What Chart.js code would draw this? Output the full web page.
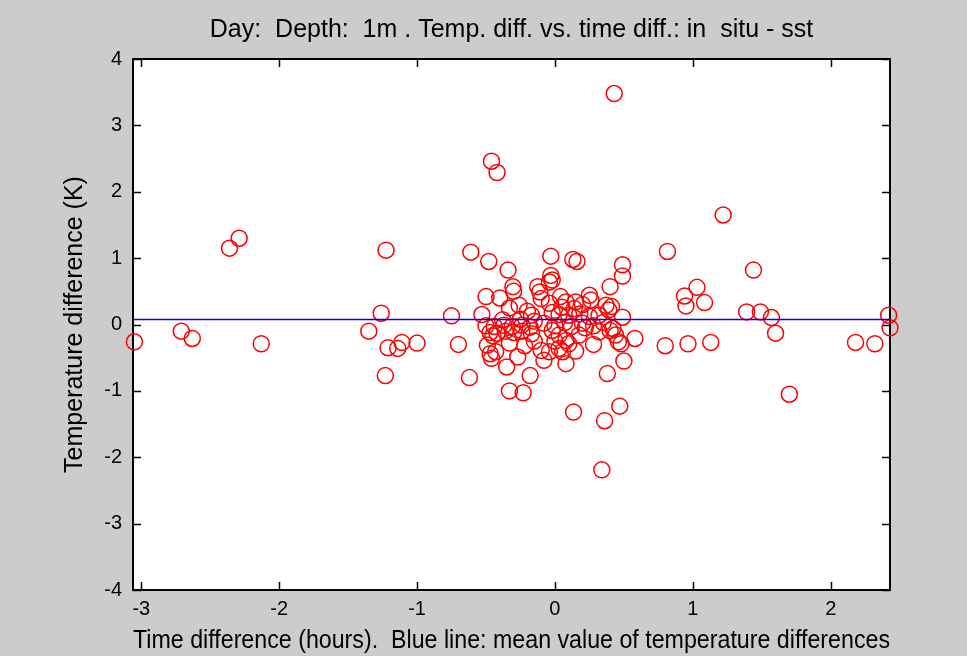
<!DOCTYPE html>
<html>
<head>
<meta charset="utf-8">
<script src="https://cdn.jsdelivr.net/npm/chart.js@4.4.1/dist/chart.umd.min.js"></script>
<style>
  html, body { margin: 0; padding: 0; background: #cccccc; }
  canvas { display: block; }
</style>
</head>
<body>
<canvas id="diffChart" width="967" height="656"></canvas>
<script>
// time difference (hours) and temperature difference (K)
const timeDiff = [
  -3.05, -2.71, -2.63, -2.13, -2.36, -2.29, -1.225, -1.26, -1.35, -1.21,
  -1.23, -1.14, -1.11, -1.00, -0.75, -0.70, -0.62, -0.61, -0.46, -0.42,
  -0.48, -0.34, -0.03, 0.13, 0.16, 0.43, 1.22, 0.816, 1.44, 0.49,
  0.49, 0.40, 1.03, 0.94, 0.95, 1.085, 1.39, 1.49, 1.57, 1.60,
  2.42, 2.43, 2.18, 2.32, 1.13, 0.965, 0.80, 0.58, 1.70, 0.50,
  0.38, 0.47, 0.36, 0.48, 0.49, 0.37, 0.41, 0.39, 0.40, 0.44,
  -0.33, -0.23, -0.18, 0.135, 0.34, -0.50, -0.40, -0.305, -0.30, -0.26,
  -0.53, -0.125, -0.11, -0.10, -0.04, -0.03, -0.02, -0.17, -0.50, -0.44,
  -0.37, -0.31, -0.24, -0.18, 0.04, 0.08, 0.15, 0.25, 0.26, -0.04,
  -0.02, 0.03, 0.10, 0.18, 0.25, 0.32, -0.49, -0.47, -0.46, -0.43,
  -0.35, -0.27, -0.10, -0.08, -0.04, -0.47, -0.42, -0.36, -0.30, -0.24,
  -0.17, -0.45, 0.08, 0.32, 0.175, 0.46, 0.03, 0.055, -0.02, 0.03,
  0.08, 0.10, 0.42, -0.15, -0.08, 0.00, 0.07, 0.12, 0.20, 0.28,
  0.35, -0.25, -0.38, 0.14, 0.05, 0.20, -0.20, -0.33, 0.22, 0.28,
  0.15, -0.15, -0.22, -0.33, 0.00
];
const tempDiff = [
  -0.26, -0.10, -0.21, -0.29, 1.15, 1.30, 1.12, 0.17, -0.10, -0.35,
  -0.77, -0.36, -0.27, -0.28, 0.13, -0.30, -0.80, 1.09, 2.46, 2.29,
  0.95, 0.82, 1.03, 0.98, 0.95, 3.48, 1.65, 1.10, 0.82, 0.90,
  0.73, 0.57, 0.56, 0.43, 0.28, 0.33, 0.19, 0.19, 0.105, -0.13,
  0.14, -0.05, -0.27, -0.29, -0.27, -0.29, -0.32, -0.21, -1.05, -0.55,
  -0.74, -1.23, -1.45, -0.29, 0.11, 0.29, 0.27, 0.22, -0.09, -0.16,
  -1.00, -1.03, -0.77, -1.32, -2.19, 0.42, 0.40, 0.57, 0.50, 0.29,
  0.15, 0.57, 0.49, 0.39, 0.64, 0.74, 0.67, 0.14, -0.02, -0.03,
  -0.01, -0.03, -0.01, -0.04, 0.42, 0.34, 0.34, 0.44, 0.37, 0.32,
  0.18, 0.15, 0.14, 0.16, 0.12, 0.14, -0.31, -0.44, -0.51, -0.41,
  -0.64, -0.49, -0.39, -0.54, -0.41, -0.12, -0.13, -0.10, -0.12, -0.10,
  -0.14, -0.17, -0.59, -0.11, -0.16, -0.26, -0.36, -0.41, -0.09, -0.16,
  -0.24, -0.29, -0.06, 0.05, 0.02, -0.02, 0.03, -0.03, 0.02, -0.02,
  0.03, 0.08, 0.07, 0.24, 0.26, 0.30, 0.20, 0.25, -0.05, -0.30,
  -0.40, -0.25, -0.32, -0.28, -0.25
];
const meanDiff = 0.075;

const xRange = [-3.06, 2.43];
const yRange = [-4, 4];
const xTicks = [-3, -2, -1, 0, 1, 2];
const yTicks = [-4, -3, -2, -1, 0, 1, 2, 3, 4];

const titleText = "Day:  Depth:  1m . Temp. diff. vs. time diff.: in  situ - sst";
const xTitle = "Time difference (hours).  Blue line: mean value of temperature differences";
const yTitle = "Temperature difference (K)";

const fontFamily = "'Liberation Sans', Arial, Helvetica, sans-serif";

const points = timeDiff.map((t, i) => ({ x: t, y: tempDiff[i] }));

// gray figure, white axes, box with inward ticks like matlab
const matlabFrame = {
  id: "matlabFrame",
  beforeDraw(chart) {
    const { ctx, chartArea: a } = chart;
    ctx.save();
    ctx.fillStyle = "#cccccc";
    ctx.fillRect(0, 0, chart.width, chart.height);
    ctx.fillStyle = "#ffffff";
    ctx.fillRect(a.left, a.top, a.right - a.left, a.bottom - a.top);
    ctx.restore();
  },
  beforeDatasetsDraw(chart) {
    const { ctx, chartArea: a, scales } = chart;
    const len = 8;
    ctx.save();
    ctx.strokeStyle = "#000000";
    ctx.lineWidth = 1.5;
    ctx.beginPath();
    scales.x.ticks.forEach(t => {
      const px = Math.round(scales.x.getPixelForValue(t.value)) + 0.5;
      ctx.moveTo(px, a.bottom);
      ctx.lineTo(px, a.bottom - len);
      ctx.moveTo(px, a.top);
      ctx.lineTo(px, a.top + len);
    });
    scales.y.ticks.forEach(t => {
      const py = Math.round(scales.y.getPixelForValue(t.value)) + 0.5;
      ctx.moveTo(a.left, py);
      ctx.lineTo(a.left + len, py);
      ctx.moveTo(a.right, py);
      ctx.lineTo(a.right - len, py);
    });
    ctx.stroke();
    ctx.lineWidth = 2;
    ctx.strokeRect(a.left, a.top, a.right - a.left, a.bottom - a.top);
    ctx.restore();
  }
};

new Chart(document.getElementById("diffChart"), {
  type: "scatter",
  data: {
    datasets: [
      {
        type: "line",
        label: "mean",
        data: [{ x: xRange[0], y: meanDiff }, { x: xRange[1], y: meanDiff }],
        borderColor: "#0000ff",
        borderWidth: 1.5,
        pointRadius: 0,
        fill: false,
        order: 0
      },
      {
        label: "in situ - sst",
        data: points,
        pointStyle: "circle",
        pointRadius: 8,
        borderColor: "#ff0000",
        backgroundColor: "rgba(0,0,0,0)",
        borderWidth: 1.5,
        clip: false,
        order: 1
      }
    ]
  },
  options: {
    responsive: false,
    animation: false,
    layout: { padding: { left: 0, right: 77, top: 0, bottom: 0 } },
    plugins: {
      legend: { display: false },
      tooltip: { enabled: false },
      title: {
        display: true,
        text: titleText,
        color: "#000000",
        fullSize: false,
        font: { family: fontFamily, size: 25, weight: "normal" },
        padding: { top: 15, bottom: 14 }
      }
    },
    scales: {
      x: {
        type: "linear",
        min: xRange[0],
        max: xRange[1],
        afterBuildTicks: s => { s.ticks = xTicks.map(v => ({ value: v })); },
        afterFit: s => { s.height = 66; },
        grid: { display: false, drawTicks: false },
        border: { display: false },
        ticks: {
          color: "#000000",
          font: { family: fontFamily, size: 20 },
          padding: 7,
          maxRotation: 0,
          autoSkip: false
        },
        title: {
          display: true,
          text: xTitle,
          color: "#000000",
          font: { family: fontFamily, size: 25 },
          padding: { top: 0, bottom: 0 }
        }
      },
      y: {
        type: "linear",
        min: yRange[0],
        max: yRange[1],
        afterBuildTicks: s => { s.ticks = yTicks.map(v => ({ value: v })); },
        afterFit: s => { s.width = 133; },
        grid: { display: false, drawTicks: false },
        border: { display: false },
        ticks: {
          color: "#000000",
          font: { family: fontFamily, size: 20 },
          padding: 11,
          autoSkip: false
        },
        title: {
          display: true,
          text: yTitle,
          color: "#000000",
          font: { family: fontFamily, size: 25 },
          padding: { top: 60, bottom: 0 }
        }
      }
    }
  },
  plugins: [matlabFrame]
});
</script>
</body>
</html>
